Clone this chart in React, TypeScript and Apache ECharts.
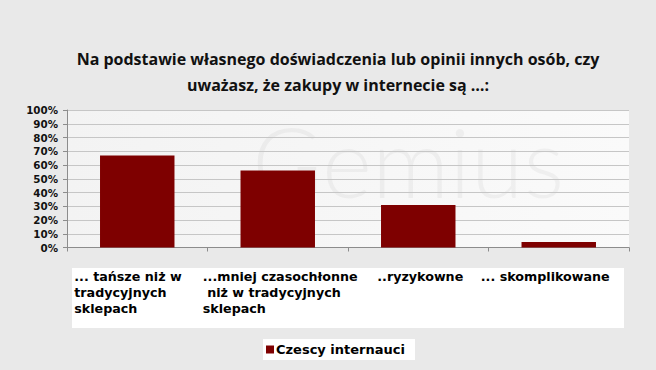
import React, { useEffect, useRef } from "react";
import * as echarts from "echarts";

const titleLines = [
  "Na podstawie własnego doświadczenia lub opinii innych osób, czy",
  "uważasz, że zakupy w internecie są …:",
];
const categories = [
  "... tańsze niż w\ntradycyjnych\nsklepach",
  "...mniej czasochłonne\n niż w tradycyjnych\nsklepach",
  "..ryzykowne",
  "... skomplikowane",
];
const seriesName = "Czescy internauci";
const values = [67, 56, 31, 4];
const yTicks = [0, 10, 20, 30, 40, 50, 60, 70, 80, 90, 100];
const labelPads = [16, 4, 38, 1];

const LABEL_FONT = "Verdana, 'DejaVu Sans', sans-serif";

export default function App() {
  const ref = useRef<HTMLDivElement>(null);
  useEffect(() => {
    if (!ref.current) return;
    const chart = echarts.init(ref.current, null, { renderer: "svg" });
    const rich: Record<string, any> = {};
    labelPads.forEach((p, i) => {
      rich["p" + i] = {
        align: "left",
        padding: [0, 0, 0, p],
        fontFamily: LABEL_FONT,
        fontWeight: "bold",
        fontSize: 12.7,
        lineHeight: 16,
        color: "#000",
      };
    });
    chart.setOption({
      animation: false,
      backgroundColor: "#e9e9e9",
      title: {
        text: titleLines.join("\n"),
        left: 338,
        textAlign: "center",
        top: 46,
        padding: 0,
        textStyle: {
          fontFamily: "'Open Sans', sans-serif",
          fontWeight: "bold",
          fontSize: 16,
          lineHeight: 26,
          color: "#111",
        },
      },
      legend: {
        data: [seriesName],
        left: 263,
        top: 339,
        backgroundColor: "#ffffff",
        padding: [4, 10, 4, 3],
        itemWidth: 8,
        itemHeight: 8,
        itemGap: 2,
        icon: "rect",
        textStyle: {
          fontFamily: LABEL_FONT,
          fontWeight: "bold",
          fontSize: 13,
          color: "#000",
          padding: [0, 0, 0, -3],
        },
      },
      graphic: [
        {
          type: "rect",
          z: -1,
          shape: { x: 72, y: 268, width: 552, height: 60 },
          style: { fill: "#ffffff" },
          silent: true,
        },
        {
          type: "text",
          z: 0,
          x: 252,
          y: 160,
          silent: true,
          style: {
            text: "Gemius",
            fontFamily: "Lato, sans-serif",
            fontWeight: 300,
            fontSize: 96,
            fill: "rgba(0,0,0,0.04)",
            verticalAlign: "middle",
          },
        },
      ],
      grid: {
        left: 67,
        right: 27,
        top: 110,
        bottom: 122.5,
        show: true,
        borderWidth: 0,
        backgroundColor: new echarts.graphic.LinearGradient(0, 0, 1, 0, [
          { offset: 0, color: "#f3f3f3" },
          { offset: 1, color: "#fafafa" },
        ]),
      },
      xAxis: {
        type: "category",
        data: categories,
        axisLine: { lineStyle: { color: "#8c8c8c", width: 1 } },
        axisTick: { show: true, length: 4, lineStyle: { color: "#8c8c8c" } },
        axisLabel: {
          interval: 0,
          margin: 21,
          align: "center",
          verticalAlign: "top",
          width: 158,
          formatter: (v: string, i: number) =>
            v
              .split("\n")
              .map((l) => `{p${i}|${l}}`)
              .join("\n"),
          rich,
        },
      },
      yAxis: {
        type: "value",
        min: yTicks[0],
        max: yTicks[yTicks.length - 1],
        interval: 10,
        axisLine: { show: true, lineStyle: { color: "#8c8c8c" } },
        axisTick: { show: true, length: 4, lineStyle: { color: "#8c8c8c" } },
        splitLine: { show: true, lineStyle: { color: "#c6c6c6", width: 1 } },
        axisLabel: {
          formatter: "{value}%",
          margin: 9,
          fontFamily: "'DejaVu Sans', sans-serif",
          fontWeight: "bold",
          fontSize: 10.3,
          color: "#111",
        },
      },
      series: [
        {
          name: seriesName,
          type: "bar",
          data: values,
          barWidth: "53%",
          itemStyle: { color: "#7e0000" },
        },
      ],
    });
    return () => chart.dispose();
  }, []);
  return (
    <div
      ref={ref}
      style={{ position: "fixed", left: 0, top: 0, width: 656, height: 370 }}
    />
  );
}
